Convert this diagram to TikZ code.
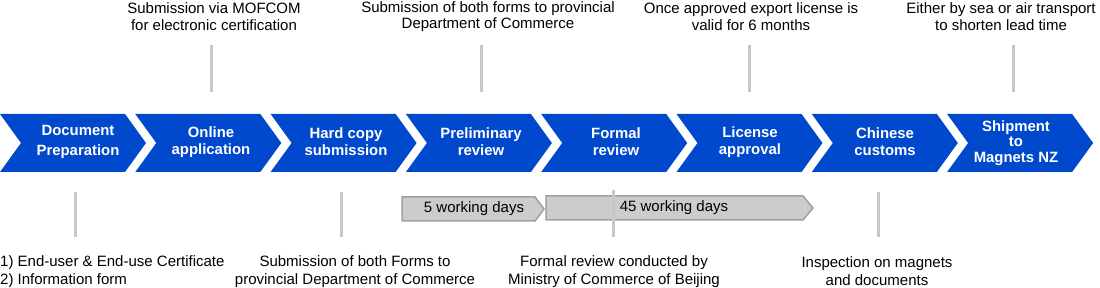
\documentclass[tikz,border=0pt]{standalone}
\usepackage{fontspec}
\setmainfont{Liberation Sans}
\usepackage{xcolor}
\usepackage{tikz}
\usetikzlibrary{positioning}

\definecolor{chevblue}{RGB}{0,72,204}
\definecolor{tickgray}{RGB}{200,200,200}
\definecolor{durgray}{RGB}{204,204,204}
\definecolor{durborder}{RGB}{160,160,160}

\begin{document}
\begin{tikzpicture}[
    x=1pt, y=-1pt,
    chev/.style={fill=chevblue},
    steplabel/.style={text=white, align=center, inner sep=0pt, font=\fontsize{14.9}{17}\selectfont\bfseries},
    note/.style={align=center, inner sep=0pt, font=\fontsize{15}{16.5}\selectfont},
    lownote/.style={align=center, inner sep=0pt, font=\fontsize{15}{18}\selectfont},
    tick/.style={draw=tickgray, line width=3pt},
    duration/.style={fill=durgray, draw=durborder, line width=1.5pt},
    durlabel/.style={inner sep=0pt, font=\fontsize{15}{17}\selectfont}
]
    \useasboundingbox (0,0) rectangle (1100,288);

    % process chevrons
    \foreach \i in {0,...,7}{
        \pgfmathsetmacro{\xl}{135.3*\i}
        \fill[chev] (\xl,114) -- ++(125,0) -- ++(21,29) -- ++(-21,29) -- (\xl,172) -- ++(21,-29) -- cycle;
    }

    \node[steplabel] (doc)      at (78,142)  {Document\\[3pt]Preparation};
    \node[steplabel] (online)   at (211,142) {Online\\application};
    \node[steplabel] (hardcopy) at (346,142) {Hard copy\\submission};
    \node[steplabel] (prelim)   at (481,142) {Preliminary\\review};
    \node[steplabel] (formal)   at (616,142) {Formal\\review};
    \node[steplabel] (license)  at (750,142) {License\\approval};
    \node[steplabel] (customs)  at (885,142) {Chinese\\customs};
    \node[steplabel, font=\fontsize{14.9}{15.5}\selectfont\bfseries] (shipment) at (1016,143) {Shipment\\to\\Magnets NZ};

    % notes above
    \node[note] (noteonline)  at (214,16.5) {Submission via MOFCOM\\for electronic certification};
    \node[note] (noteprelim)  at (488,16.5) {Submission of both forms to provincial\\Department of Commerce};
    \node[note] (notelicense) at (751,16.5) {Once approved export license is\\valid for 6 months};
    \node[note] (noteship)    at (1001,16.5) {Either by sea or air transport\\to shorten lead time};

    \draw[tick] (211,45) -- (211,92);
    \draw[tick] (481,45) -- (481,92);
    \draw[tick] (749,45) -- (749,92);
    \draw[tick] (1013,45) -- (1013,92);

    % durations
    \draw[duration] (402,197) -- (535,197) -- (544,209) -- (535,221) -- (402,221) -- cycle;
    \draw[duration] (546,196) -- (803,196) -- (813,208) -- (803,220) -- (546,220) -- cycle;
    \node[durlabel] (fivedays)   at (474,209) {5 working days};
    \node[durlabel] (fortyfive)  at (674,208) {45 working days};

    \draw[tick] (75,192) -- (75,237);
    \draw[tick] (341,192) -- (341,237);
    \draw[tick] (613,190) -- (613,237);
    \draw[tick] (878,192) -- (878,237);

    % notes below
    \node[lownote, align=left, anchor=west] (notedoc) at (0,271.5) {1) End-user \& End-use Certificate\\2) Information form};
    \node[lownote] (notehard)    at (355,271.5) {Submission of both Forms to\\provincial Department of Commerce};
    \node[lownote] (noteformal)  at (614,271.5) {Formal review conducted by\\Ministry of Commerce of Beijing};
    \node[lownote] (notecustoms) at (877,271.5) {Inspection on magnets\\and documents};
\end{tikzpicture}
\end{document}
